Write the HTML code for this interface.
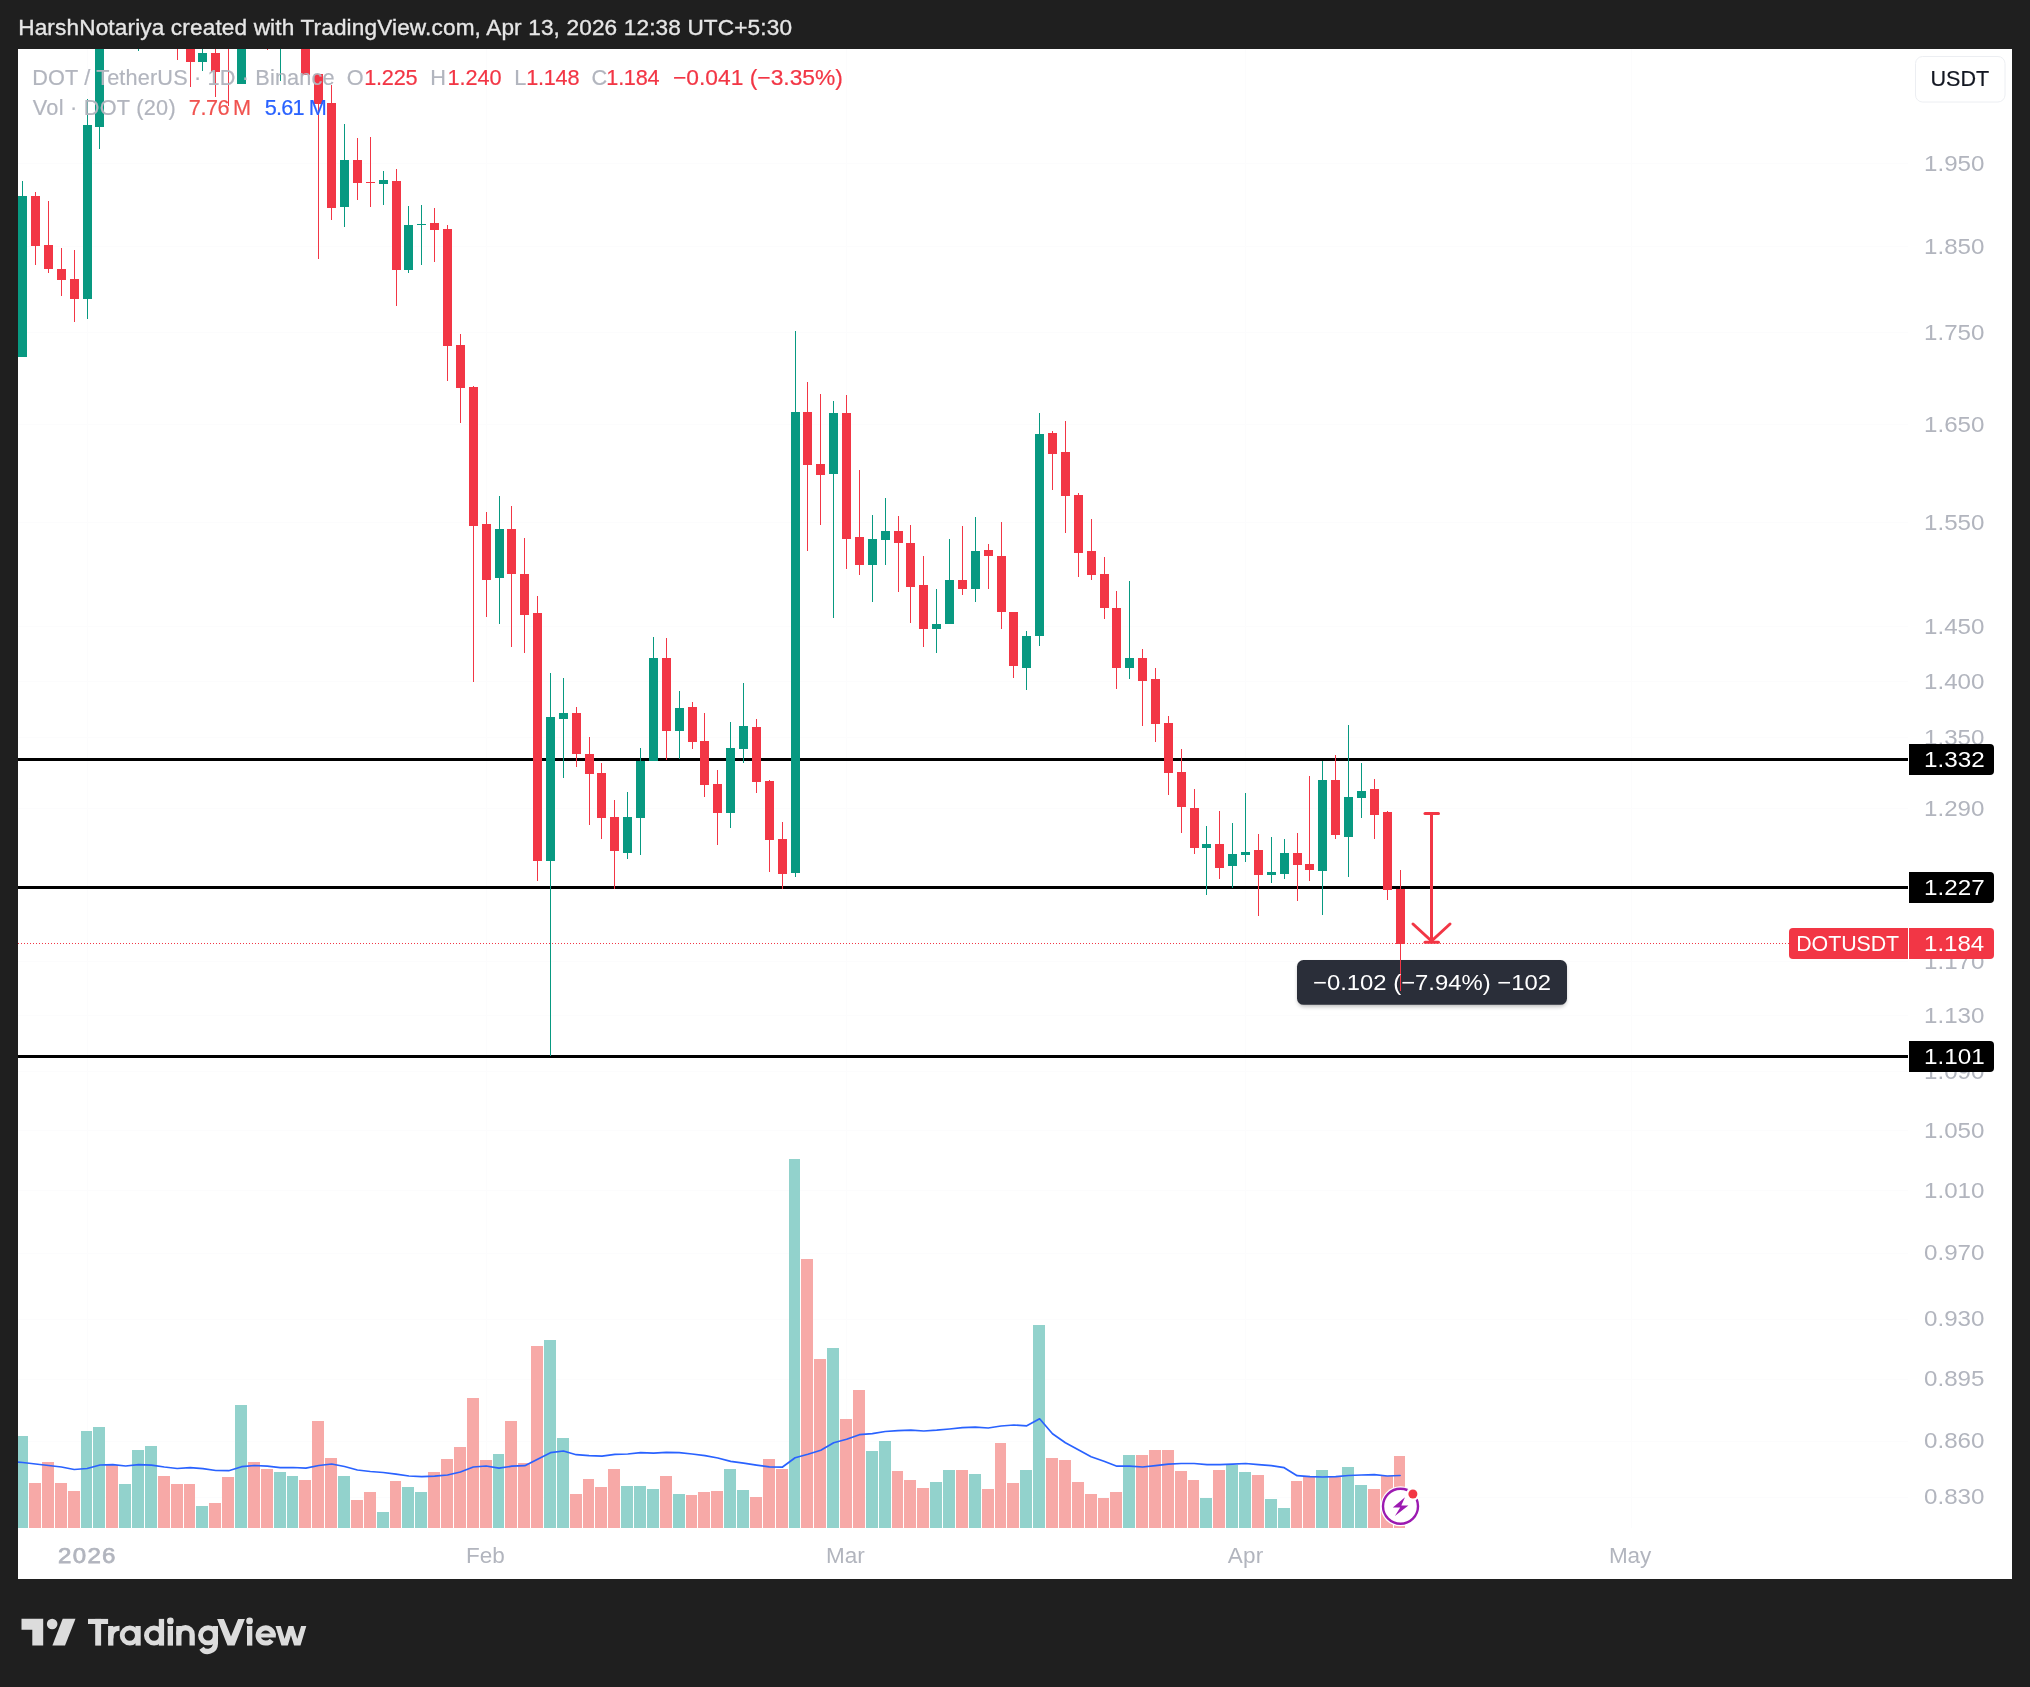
<!DOCTYPE html>
<html><head><meta charset="utf-8"><title>DOTUSDT chart</title>
<style>
html,body{margin:0;padding:0;}
body{width:2030px;height:1687px;background:#1f1f1f;position:relative;overflow:hidden;font-family:"Liberation Sans",sans-serif;}
#chart{position:absolute;left:18px;top:49px;width:1994px;height:1529.5px;background:#fff;overflow:hidden;}
#chart svg{position:absolute;left:0;top:0;}
.t{position:absolute;white-space:pre;transform-origin:0 0;font-family:"Liberation Sans",sans-serif;}
.tx{will-change:transform;position:absolute;left:0;top:0;width:2030px;height:1687px;}
</style></head><body>
<div id="chart">
<svg width="1994" height="1530" viewBox="18 49 1994 1530" shape-rendering="crispEdges">
<rect x="18" y="163" width="1890" height="1" fill="#fcfcfd"/>
<rect x="18" y="246" width="1890" height="1" fill="#fcfcfd"/>
<rect x="18" y="332" width="1890" height="1" fill="#fcfcfd"/>
<rect x="18" y="424" width="1890" height="1" fill="#fcfcfd"/>
<rect x="18" y="522" width="1890" height="1" fill="#fcfcfd"/>
<rect x="18" y="626" width="1890" height="1" fill="#fcfcfd"/>
<rect x="18" y="681" width="1890" height="1" fill="#fcfcfd"/>
<rect x="18" y="737" width="1890" height="1" fill="#fcfcfd"/>
<rect x="18" y="808" width="1890" height="1" fill="#fcfcfd"/>
<rect x="18" y="961" width="1890" height="1" fill="#fcfcfd"/>
<rect x="18" y="1015" width="1890" height="1" fill="#fcfcfd"/>
<rect x="18" y="1071" width="1890" height="1" fill="#fcfcfd"/>
<rect x="18" y="1130" width="1890" height="1" fill="#fcfcfd"/>
<rect x="18" y="1190" width="1890" height="1" fill="#fcfcfd"/>
<rect x="18" y="1253" width="1890" height="1" fill="#fcfcfd"/>
<rect x="18" y="1319" width="1890" height="1" fill="#fcfcfd"/>
<rect x="18" y="1379" width="1890" height="1" fill="#fcfcfd"/>
<rect x="18" y="1441" width="1890" height="1" fill="#fcfcfd"/>
<rect x="18" y="1497" width="1890" height="1" fill="#fcfcfd"/>
<rect x="87" y="49" width="1" height="1479" fill="#fcfcfd"/>
<rect x="486" y="49" width="1" height="1479" fill="#fcfcfd"/>
<rect x="846" y="49" width="1" height="1479" fill="#fcfcfd"/>
<rect x="1245" y="49" width="1" height="1479" fill="#fcfcfd"/>
<rect x="1631" y="49" width="1" height="1479" fill="#fcfcfd"/>
<rect x="16" y="1436" width="12" height="92" fill="#92d2cc"/>
<rect x="29" y="1483" width="12" height="45" fill="#f7a9a7"/>
<rect x="42" y="1462" width="12" height="66" fill="#f7a9a7"/>
<rect x="55" y="1483" width="12" height="45" fill="#f7a9a7"/>
<rect x="68" y="1491" width="12" height="37" fill="#f7a9a7"/>
<rect x="81" y="1431" width="11" height="97" fill="#92d2cc"/>
<rect x="93" y="1427" width="12" height="101" fill="#92d2cc"/>
<rect x="106" y="1465" width="12" height="63" fill="#f7a9a7"/>
<rect x="119" y="1484" width="12" height="44" fill="#92d2cc"/>
<rect x="132" y="1450" width="12" height="78" fill="#92d2cc"/>
<rect x="145" y="1446" width="12" height="82" fill="#92d2cc"/>
<rect x="158" y="1476" width="12" height="52" fill="#f7a9a7"/>
<rect x="171" y="1484" width="12" height="44" fill="#f7a9a7"/>
<rect x="184" y="1484" width="11" height="44" fill="#f7a9a7"/>
<rect x="196" y="1506" width="12" height="22" fill="#92d2cc"/>
<rect x="209" y="1503" width="12" height="25" fill="#f7a9a7"/>
<rect x="222" y="1477" width="12" height="51" fill="#f7a9a7"/>
<rect x="235" y="1405" width="12" height="123" fill="#92d2cc"/>
<rect x="248" y="1462" width="12" height="66" fill="#f7a9a7"/>
<rect x="261" y="1469" width="12" height="59" fill="#f7a9a7"/>
<rect x="274" y="1472" width="12" height="56" fill="#92d2cc"/>
<rect x="287" y="1476" width="11" height="52" fill="#92d2cc"/>
<rect x="299" y="1480" width="12" height="48" fill="#f7a9a7"/>
<rect x="312" y="1421" width="12" height="107" fill="#f7a9a7"/>
<rect x="325" y="1458" width="12" height="70" fill="#f7a9a7"/>
<rect x="338" y="1476" width="12" height="52" fill="#92d2cc"/>
<rect x="351" y="1500" width="12" height="28" fill="#f7a9a7"/>
<rect x="364" y="1492" width="12" height="36" fill="#f7a9a7"/>
<rect x="377" y="1512" width="12" height="16" fill="#92d2cc"/>
<rect x="390" y="1481" width="11" height="47" fill="#f7a9a7"/>
<rect x="402" y="1487" width="12" height="41" fill="#92d2cc"/>
<rect x="415" y="1492" width="12" height="36" fill="#92d2cc"/>
<rect x="428" y="1472" width="12" height="56" fill="#f7a9a7"/>
<rect x="441" y="1459" width="12" height="69" fill="#f7a9a7"/>
<rect x="454" y="1447" width="12" height="81" fill="#f7a9a7"/>
<rect x="467" y="1398" width="12" height="130" fill="#f7a9a7"/>
<rect x="480" y="1460" width="12" height="68" fill="#f7a9a7"/>
<rect x="493" y="1454" width="11" height="74" fill="#92d2cc"/>
<rect x="505" y="1421" width="12" height="107" fill="#f7a9a7"/>
<rect x="518" y="1463" width="12" height="65" fill="#f7a9a7"/>
<rect x="531" y="1346" width="12" height="182" fill="#f7a9a7"/>
<rect x="544" y="1340" width="12" height="188" fill="#92d2cc"/>
<rect x="557" y="1438" width="12" height="90" fill="#92d2cc"/>
<rect x="570" y="1494" width="12" height="34" fill="#f7a9a7"/>
<rect x="583" y="1479" width="11" height="49" fill="#f7a9a7"/>
<rect x="595" y="1487" width="12" height="41" fill="#f7a9a7"/>
<rect x="608" y="1469" width="12" height="59" fill="#f7a9a7"/>
<rect x="621" y="1486" width="12" height="42" fill="#92d2cc"/>
<rect x="634" y="1486" width="12" height="42" fill="#92d2cc"/>
<rect x="647" y="1489" width="12" height="39" fill="#92d2cc"/>
<rect x="660" y="1476" width="12" height="52" fill="#f7a9a7"/>
<rect x="673" y="1494" width="12" height="34" fill="#92d2cc"/>
<rect x="686" y="1495" width="11" height="33" fill="#f7a9a7"/>
<rect x="698" y="1492" width="12" height="36" fill="#f7a9a7"/>
<rect x="711" y="1491" width="12" height="37" fill="#f7a9a7"/>
<rect x="724" y="1469" width="12" height="59" fill="#92d2cc"/>
<rect x="737" y="1490" width="12" height="38" fill="#92d2cc"/>
<rect x="750" y="1497" width="12" height="31" fill="#f7a9a7"/>
<rect x="763" y="1459" width="12" height="69" fill="#f7a9a7"/>
<rect x="776" y="1469" width="12" height="59" fill="#f7a9a7"/>
<rect x="789" y="1159" width="11" height="369" fill="#92d2cc"/>
<rect x="801" y="1259" width="12" height="269" fill="#f7a9a7"/>
<rect x="814" y="1359" width="12" height="169" fill="#f7a9a7"/>
<rect x="827" y="1348" width="12" height="180" fill="#92d2cc"/>
<rect x="840" y="1419" width="12" height="109" fill="#f7a9a7"/>
<rect x="853" y="1390" width="12" height="138" fill="#f7a9a7"/>
<rect x="866" y="1451" width="12" height="77" fill="#92d2cc"/>
<rect x="879" y="1441" width="12" height="87" fill="#92d2cc"/>
<rect x="892" y="1471" width="11" height="57" fill="#f7a9a7"/>
<rect x="904" y="1480" width="12" height="48" fill="#f7a9a7"/>
<rect x="917" y="1488" width="12" height="40" fill="#f7a9a7"/>
<rect x="930" y="1482" width="12" height="46" fill="#92d2cc"/>
<rect x="943" y="1470" width="12" height="58" fill="#92d2cc"/>
<rect x="956" y="1470" width="12" height="58" fill="#f7a9a7"/>
<rect x="969" y="1474" width="12" height="54" fill="#92d2cc"/>
<rect x="982" y="1489" width="12" height="39" fill="#f7a9a7"/>
<rect x="995" y="1443" width="11" height="85" fill="#f7a9a7"/>
<rect x="1007" y="1483" width="12" height="45" fill="#f7a9a7"/>
<rect x="1020" y="1470" width="12" height="58" fill="#92d2cc"/>
<rect x="1033" y="1325" width="12" height="203" fill="#92d2cc"/>
<rect x="1046" y="1458" width="12" height="70" fill="#f7a9a7"/>
<rect x="1059" y="1460" width="12" height="68" fill="#f7a9a7"/>
<rect x="1072" y="1482" width="12" height="46" fill="#f7a9a7"/>
<rect x="1085" y="1494" width="12" height="34" fill="#f7a9a7"/>
<rect x="1098" y="1498" width="11" height="30" fill="#f7a9a7"/>
<rect x="1110" y="1492" width="12" height="36" fill="#f7a9a7"/>
<rect x="1123" y="1455" width="12" height="73" fill="#92d2cc"/>
<rect x="1136" y="1455" width="12" height="73" fill="#f7a9a7"/>
<rect x="1149" y="1450" width="12" height="78" fill="#f7a9a7"/>
<rect x="1162" y="1450" width="12" height="78" fill="#f7a9a7"/>
<rect x="1175" y="1471" width="12" height="57" fill="#f7a9a7"/>
<rect x="1188" y="1480" width="11" height="48" fill="#f7a9a7"/>
<rect x="1200" y="1498" width="12" height="30" fill="#92d2cc"/>
<rect x="1213" y="1470" width="12" height="58" fill="#f7a9a7"/>
<rect x="1226" y="1465" width="12" height="63" fill="#92d2cc"/>
<rect x="1239" y="1472" width="12" height="56" fill="#92d2cc"/>
<rect x="1252" y="1475" width="12" height="53" fill="#f7a9a7"/>
<rect x="1265" y="1499" width="12" height="29" fill="#92d2cc"/>
<rect x="1278" y="1508" width="12" height="20" fill="#92d2cc"/>
<rect x="1291" y="1481" width="11" height="47" fill="#f7a9a7"/>
<rect x="1303" y="1477" width="12" height="51" fill="#f7a9a7"/>
<rect x="1316" y="1470" width="12" height="58" fill="#92d2cc"/>
<rect x="1329" y="1477" width="12" height="51" fill="#f7a9a7"/>
<rect x="1342" y="1467" width="12" height="61" fill="#92d2cc"/>
<rect x="1355" y="1485" width="12" height="43" fill="#92d2cc"/>
<rect x="1368" y="1489" width="12" height="39" fill="#f7a9a7"/>
<rect x="1381" y="1476" width="12" height="52" fill="#f7a9a7"/>
<rect x="1394" y="1456" width="11" height="72" fill="#f7a9a7"/>
<polyline points="18,1462.2 22.7,1462.5 35.6,1464.0 48.5,1465.5 61.4,1467.0 74.2,1469.5 87.1,1468.5 100.0,1465.0 112.8,1464.7 125.7,1466.0 138.6,1464.7 151.5,1465.2 164.3,1467.0 177.2,1468.5 190.1,1467.7 202.9,1468.7 215.8,1470.5 228.7,1470.7 241.6,1466.7 254.4,1465.5 267.3,1466.2 280.2,1467.7 293.1,1467.5 305.9,1468.2 318.8,1465.5 331.7,1464.0 344.5,1466.5 357.4,1470.0 370.3,1471.5 383.2,1472.5 396.0,1474.2 408.9,1476.0 421.8,1476.7 434.6,1476.2 447.5,1475.0 460.4,1472.0 473.3,1467.0 486.1,1466.0 499.0,1468.2 511.9,1466.2 524.8,1465.7 537.6,1459.2 550.5,1452.7 563.4,1451.0 576.2,1454.7 589.1,1455.7 602.0,1456.2 614.9,1454.4 627.7,1454.0 640.6,1452.7 653.5,1453.2 666.3,1452.4 679.2,1452.7 692.1,1454.0 705.0,1455.7 717.8,1458.0 730.7,1461.4 743.6,1463.2 756.5,1465.2 769.3,1466.9 782.2,1467.2 795.1,1457.7 807.9,1454.2 820.8,1450.2 833.7,1442.7 846.6,1439.2 859.4,1434.7 872.3,1433.7 885.2,1431.5 898.0,1430.7 910.9,1430.2 923.8,1431.0 936.7,1430.2 949.5,1429.0 962.4,1427.7 975.3,1427.2 988.2,1428.0 1001.0,1426.0 1013.9,1425.0 1026.8,1425.8 1039.6,1418.8 1052.5,1433.7 1065.4,1442.7 1078.3,1449.7 1091.1,1456.7 1104.0,1461.2 1116.9,1466.2 1129.7,1466.2 1142.6,1467.0 1155.5,1465.7 1168.4,1464.2 1181.2,1463.5 1194.1,1463.5 1207.0,1464.7 1219.9,1464.7 1232.7,1464.2 1245.6,1463.5 1258.5,1464.7 1271.3,1465.7 1284.2,1467.7 1297.1,1475.7 1310.0,1476.7 1322.8,1477.0 1335.7,1476.7 1348.6,1475.5 1361.4,1475.0 1374.3,1474.7 1387.2,1476.0 1400.1,1475.5" fill="none" stroke="#2962ff" stroke-width="1.7" stroke-linejoin="round" stroke-linecap="round" shape-rendering="geometricPrecision"/>
<rect x="18" y="758" width="1890" height="3" fill="#000"/>
<rect x="18" y="886" width="1890" height="3" fill="#000"/>
<rect x="18" y="1055" width="1890" height="3" fill="#000"/>
<g shape-rendering="geometricPrecision" stroke="#f23645" stroke-width="3" stroke-linecap="round" fill="none"><path d="M1431.5 813.5V942"/><path d="M1425 813.5H1438.5"/><path d="M1425 942.3H1438.5"/><path d="M1413 924L1431.5 941L1450 924" stroke-linejoin="miter"/></g>
<defs><filter id="sh" x="-10%" y="-30%" width="120%" height="170%"><feGaussianBlur stdDeviation="2.2"/></filter></defs><g shape-rendering="geometricPrecision"><rect x="1298" y="963" width="268" height="43.5" rx="6" fill="#000" opacity="0.28" filter="url(#sh)"/><rect x="1297" y="960" width="270" height="44.8" rx="6.5" fill="#2a2e39"/></g>
<rect x="22" y="181" width="1" height="176" fill="#089981"/>
<rect x="18" y="196" width="9" height="161" fill="#089981"/>
<rect x="35" y="192" width="1" height="73" fill="#f23645"/>
<rect x="31" y="196" width="9" height="50" fill="#f23645"/>
<rect x="48" y="201" width="1" height="72" fill="#f23645"/>
<rect x="44" y="245" width="9" height="24" fill="#f23645"/>
<rect x="61" y="248" width="1" height="48" fill="#f23645"/>
<rect x="57" y="269" width="9" height="11" fill="#f23645"/>
<rect x="74" y="250" width="1" height="72" fill="#f23645"/>
<rect x="70" y="279" width="9" height="20" fill="#f23645"/>
<rect x="87" y="99" width="1" height="220" fill="#089981"/>
<rect x="83" y="125" width="9" height="174" fill="#089981"/>
<rect x="99" y="20" width="1" height="129" fill="#089981"/>
<rect x="95" y="30" width="9" height="97" fill="#089981"/>
<rect x="138" y="20" width="1" height="31" fill="#089981"/>
<rect x="134" y="30" width="9" height="10" fill="#089981"/>
<rect x="177" y="20" width="1" height="40" fill="#f23645"/>
<rect x="173" y="30" width="9" height="10" fill="#f23645"/>
<rect x="190" y="20" width="1" height="67" fill="#f23645"/>
<rect x="186" y="30" width="9" height="32" fill="#f23645"/>
<rect x="202" y="20" width="1" height="51" fill="#089981"/>
<rect x="198" y="53" width="9" height="9" fill="#089981"/>
<rect x="215" y="20" width="1" height="77" fill="#f23645"/>
<rect x="211" y="53" width="9" height="19" fill="#f23645"/>
<rect x="228" y="20" width="1" height="86" fill="#f23645"/>
<rect x="224" y="30" width="9" height="10" fill="#f23645"/>
<rect x="241" y="20" width="1" height="64" fill="#089981"/>
<rect x="237" y="30" width="9" height="54" fill="#089981"/>
<rect x="267" y="20" width="1" height="30" fill="#f23645"/>
<rect x="263" y="30" width="9" height="10" fill="#f23645"/>
<rect x="280" y="20" width="1" height="61" fill="#089981"/>
<rect x="276" y="30" width="9" height="10" fill="#089981"/>
<rect x="305" y="20" width="1" height="55" fill="#f23645"/>
<rect x="301" y="30" width="9" height="45" fill="#f23645"/>
<rect x="318" y="74" width="1" height="185" fill="#f23645"/>
<rect x="314" y="74" width="9" height="30" fill="#f23645"/>
<rect x="331" y="85" width="1" height="135" fill="#f23645"/>
<rect x="327" y="103" width="9" height="105" fill="#f23645"/>
<rect x="344" y="124" width="1" height="103" fill="#089981"/>
<rect x="340" y="160" width="9" height="47" fill="#089981"/>
<rect x="357" y="138" width="1" height="62" fill="#f23645"/>
<rect x="353" y="160" width="9" height="23" fill="#f23645"/>
<rect x="370" y="137" width="1" height="70" fill="#f23645"/>
<rect x="366" y="182" width="9" height="1" fill="#f23645"/>
<rect x="383" y="171" width="1" height="34" fill="#089981"/>
<rect x="379" y="180" width="9" height="4" fill="#089981"/>
<rect x="396" y="169" width="1" height="137" fill="#f23645"/>
<rect x="392" y="181" width="9" height="89" fill="#f23645"/>
<rect x="408" y="206" width="1" height="67" fill="#089981"/>
<rect x="404" y="225" width="9" height="45" fill="#089981"/>
<rect x="421" y="205" width="1" height="60" fill="#089981"/>
<rect x="417" y="224" width="9" height="1" fill="#089981"/>
<rect x="434" y="208" width="1" height="54" fill="#f23645"/>
<rect x="430" y="223" width="9" height="7" fill="#f23645"/>
<rect x="447" y="225" width="1" height="156" fill="#f23645"/>
<rect x="443" y="229" width="9" height="117" fill="#f23645"/>
<rect x="460" y="334" width="1" height="89" fill="#f23645"/>
<rect x="456" y="345" width="9" height="43" fill="#f23645"/>
<rect x="473" y="386" width="1" height="296" fill="#f23645"/>
<rect x="469" y="387" width="9" height="139" fill="#f23645"/>
<rect x="486" y="512" width="1" height="105" fill="#f23645"/>
<rect x="482" y="524" width="9" height="56" fill="#f23645"/>
<rect x="499" y="496" width="1" height="128" fill="#089981"/>
<rect x="495" y="529" width="9" height="49" fill="#089981"/>
<rect x="511" y="506" width="1" height="141" fill="#f23645"/>
<rect x="507" y="529" width="9" height="45" fill="#f23645"/>
<rect x="524" y="538" width="1" height="115" fill="#f23645"/>
<rect x="520" y="574" width="9" height="41" fill="#f23645"/>
<rect x="537" y="596" width="1" height="285" fill="#f23645"/>
<rect x="533" y="613" width="9" height="248" fill="#f23645"/>
<rect x="550" y="673" width="1" height="383" fill="#089981"/>
<rect x="546" y="717" width="9" height="144" fill="#089981"/>
<rect x="563" y="678" width="1" height="100" fill="#089981"/>
<rect x="559" y="713" width="9" height="6" fill="#089981"/>
<rect x="576" y="707" width="1" height="60" fill="#f23645"/>
<rect x="572" y="713" width="9" height="41" fill="#f23645"/>
<rect x="589" y="737" width="1" height="88" fill="#f23645"/>
<rect x="585" y="754" width="9" height="20" fill="#f23645"/>
<rect x="601" y="763" width="1" height="76" fill="#f23645"/>
<rect x="597" y="773" width="9" height="45" fill="#f23645"/>
<rect x="614" y="800" width="1" height="89" fill="#f23645"/>
<rect x="610" y="817" width="9" height="34" fill="#f23645"/>
<rect x="627" y="792" width="1" height="67" fill="#089981"/>
<rect x="623" y="817" width="9" height="36" fill="#089981"/>
<rect x="640" y="748" width="1" height="107" fill="#089981"/>
<rect x="636" y="761" width="9" height="57" fill="#089981"/>
<rect x="653" y="637" width="1" height="124" fill="#089981"/>
<rect x="649" y="658" width="9" height="103" fill="#089981"/>
<rect x="666" y="638" width="1" height="122" fill="#f23645"/>
<rect x="662" y="658" width="9" height="73" fill="#f23645"/>
<rect x="679" y="691" width="1" height="68" fill="#089981"/>
<rect x="675" y="708" width="9" height="23" fill="#089981"/>
<rect x="692" y="702" width="1" height="47" fill="#f23645"/>
<rect x="688" y="707" width="9" height="35" fill="#f23645"/>
<rect x="704" y="713" width="1" height="84" fill="#f23645"/>
<rect x="700" y="741" width="9" height="44" fill="#f23645"/>
<rect x="717" y="770" width="1" height="75" fill="#f23645"/>
<rect x="713" y="784" width="9" height="29" fill="#f23645"/>
<rect x="730" y="722" width="1" height="106" fill="#089981"/>
<rect x="726" y="748" width="9" height="65" fill="#089981"/>
<rect x="743" y="683" width="1" height="80" fill="#089981"/>
<rect x="739" y="726" width="9" height="23" fill="#089981"/>
<rect x="756" y="719" width="1" height="74" fill="#f23645"/>
<rect x="752" y="727" width="9" height="55" fill="#f23645"/>
<rect x="769" y="780" width="1" height="92" fill="#f23645"/>
<rect x="765" y="781" width="9" height="59" fill="#f23645"/>
<rect x="782" y="822" width="1" height="67" fill="#f23645"/>
<rect x="778" y="839" width="9" height="35" fill="#f23645"/>
<rect x="795" y="331" width="1" height="546" fill="#089981"/>
<rect x="791" y="412" width="9" height="461" fill="#089981"/>
<rect x="807" y="382" width="1" height="169" fill="#f23645"/>
<rect x="803" y="412" width="9" height="53" fill="#f23645"/>
<rect x="820" y="394" width="1" height="131" fill="#f23645"/>
<rect x="816" y="464" width="9" height="11" fill="#f23645"/>
<rect x="833" y="401" width="1" height="217" fill="#089981"/>
<rect x="829" y="413" width="9" height="61" fill="#089981"/>
<rect x="846" y="395" width="1" height="174" fill="#f23645"/>
<rect x="842" y="413" width="9" height="126" fill="#f23645"/>
<rect x="859" y="470" width="1" height="105" fill="#f23645"/>
<rect x="855" y="537" width="9" height="28" fill="#f23645"/>
<rect x="872" y="515" width="1" height="87" fill="#089981"/>
<rect x="868" y="539" width="9" height="26" fill="#089981"/>
<rect x="885" y="498" width="1" height="67" fill="#089981"/>
<rect x="881" y="531" width="9" height="9" fill="#089981"/>
<rect x="898" y="516" width="1" height="76" fill="#f23645"/>
<rect x="894" y="531" width="9" height="12" fill="#f23645"/>
<rect x="910" y="525" width="1" height="98" fill="#f23645"/>
<rect x="906" y="543" width="9" height="44" fill="#f23645"/>
<rect x="923" y="556" width="1" height="91" fill="#f23645"/>
<rect x="919" y="585" width="9" height="44" fill="#f23645"/>
<rect x="936" y="589" width="1" height="64" fill="#089981"/>
<rect x="932" y="624" width="9" height="5" fill="#089981"/>
<rect x="949" y="539" width="1" height="85" fill="#089981"/>
<rect x="945" y="580" width="9" height="44" fill="#089981"/>
<rect x="962" y="526" width="1" height="69" fill="#f23645"/>
<rect x="958" y="580" width="9" height="9" fill="#f23645"/>
<rect x="975" y="517" width="1" height="85" fill="#089981"/>
<rect x="971" y="551" width="9" height="38" fill="#089981"/>
<rect x="988" y="544" width="1" height="45" fill="#f23645"/>
<rect x="984" y="550" width="9" height="6" fill="#f23645"/>
<rect x="1001" y="522" width="1" height="107" fill="#f23645"/>
<rect x="997" y="556" width="9" height="56" fill="#f23645"/>
<rect x="1013" y="612" width="1" height="66" fill="#f23645"/>
<rect x="1009" y="612" width="9" height="54" fill="#f23645"/>
<rect x="1026" y="631" width="1" height="59" fill="#089981"/>
<rect x="1022" y="636" width="9" height="32" fill="#089981"/>
<rect x="1039" y="413" width="1" height="233" fill="#089981"/>
<rect x="1035" y="434" width="9" height="202" fill="#089981"/>
<rect x="1052" y="431" width="1" height="59" fill="#f23645"/>
<rect x="1048" y="433" width="9" height="21" fill="#f23645"/>
<rect x="1065" y="421" width="1" height="112" fill="#f23645"/>
<rect x="1061" y="452" width="9" height="44" fill="#f23645"/>
<rect x="1078" y="493" width="1" height="84" fill="#f23645"/>
<rect x="1074" y="495" width="9" height="58" fill="#f23645"/>
<rect x="1091" y="519" width="1" height="61" fill="#f23645"/>
<rect x="1087" y="551" width="9" height="24" fill="#f23645"/>
<rect x="1104" y="557" width="1" height="62" fill="#f23645"/>
<rect x="1100" y="574" width="9" height="34" fill="#f23645"/>
<rect x="1116" y="591" width="1" height="98" fill="#f23645"/>
<rect x="1112" y="608" width="9" height="60" fill="#f23645"/>
<rect x="1129" y="581" width="1" height="98" fill="#089981"/>
<rect x="1125" y="658" width="9" height="10" fill="#089981"/>
<rect x="1142" y="649" width="1" height="77" fill="#f23645"/>
<rect x="1138" y="658" width="9" height="23" fill="#f23645"/>
<rect x="1155" y="668" width="1" height="74" fill="#f23645"/>
<rect x="1151" y="679" width="9" height="45" fill="#f23645"/>
<rect x="1168" y="716" width="1" height="79" fill="#f23645"/>
<rect x="1164" y="723" width="9" height="50" fill="#f23645"/>
<rect x="1181" y="749" width="1" height="84" fill="#f23645"/>
<rect x="1177" y="772" width="9" height="35" fill="#f23645"/>
<rect x="1194" y="789" width="1" height="65" fill="#f23645"/>
<rect x="1190" y="808" width="9" height="40" fill="#f23645"/>
<rect x="1206" y="826" width="1" height="69" fill="#089981"/>
<rect x="1202" y="844" width="9" height="4" fill="#089981"/>
<rect x="1219" y="811" width="1" height="68" fill="#f23645"/>
<rect x="1215" y="844" width="9" height="24" fill="#f23645"/>
<rect x="1232" y="823" width="1" height="65" fill="#089981"/>
<rect x="1228" y="854" width="9" height="12" fill="#089981"/>
<rect x="1245" y="793" width="1" height="69" fill="#089981"/>
<rect x="1241" y="852" width="9" height="3" fill="#089981"/>
<rect x="1258" y="834" width="1" height="82" fill="#f23645"/>
<rect x="1254" y="850" width="9" height="25" fill="#f23645"/>
<rect x="1271" y="837" width="1" height="46" fill="#089981"/>
<rect x="1267" y="872" width="9" height="3" fill="#089981"/>
<rect x="1284" y="839" width="1" height="40" fill="#089981"/>
<rect x="1280" y="853" width="9" height="21" fill="#089981"/>
<rect x="1297" y="833" width="1" height="68" fill="#f23645"/>
<rect x="1293" y="853" width="9" height="12" fill="#f23645"/>
<rect x="1309" y="776" width="1" height="105" fill="#f23645"/>
<rect x="1305" y="864" width="9" height="6" fill="#f23645"/>
<rect x="1322" y="761" width="1" height="154" fill="#089981"/>
<rect x="1318" y="780" width="9" height="91" fill="#089981"/>
<rect x="1335" y="755" width="1" height="84" fill="#f23645"/>
<rect x="1331" y="780" width="9" height="55" fill="#f23645"/>
<rect x="1348" y="725" width="1" height="152" fill="#089981"/>
<rect x="1344" y="797" width="9" height="40" fill="#089981"/>
<rect x="1361" y="763" width="1" height="55" fill="#089981"/>
<rect x="1357" y="791" width="9" height="7" fill="#089981"/>
<rect x="1374" y="779" width="1" height="60" fill="#f23645"/>
<rect x="1370" y="789" width="9" height="26" fill="#f23645"/>
<rect x="1387" y="811" width="1" height="89" fill="#f23645"/>
<rect x="1383" y="812" width="9" height="78" fill="#f23645"/>
<rect x="1400" y="870" width="1" height="121" fill="#f23645"/>
<rect x="1396" y="889" width="9" height="55" fill="#f23645"/>
<line x1="18" y1="943.5" x2="1789" y2="943.5" stroke="#f23645" stroke-width="1" stroke-dasharray="1 2"/>
<g shape-rendering="geometricPrecision"><circle cx="1400.5" cy="1506.3" r="20" fill="#fff"/><circle cx="1400.5" cy="1506.3" r="17.5" fill="none" stroke="#9c1ab1" stroke-width="2.4"/><circle cx="1412.9" cy="1494" r="6.8" fill="#fff"/><circle cx="1412.9" cy="1494" r="4.5" fill="#f23645"/><path d="M1405 1497.2L1392.8 1507.5H1400.2L1394.9 1515.9L1408.4 1505.4H1401.3Z" fill="#9c1ab1"/></g>
</svg>
</div>
<div class="tx">
<div class="t" style="left:1924.47px;top:152.52px;font-size:21.6px;line-height:21.6px;color:#b2b5be;transform:scaleX(1.1185);">1.950</div>
<div class="t" style="left:1924.47px;top:235.62px;font-size:21.6px;line-height:21.6px;color:#b2b5be;transform:scaleX(1.1185);">1.850</div>
<div class="t" style="left:1924.47px;top:321.72px;font-size:21.6px;line-height:21.6px;color:#b2b5be;transform:scaleX(1.1185);">1.750</div>
<div class="t" style="left:1924.47px;top:413.62px;font-size:21.6px;line-height:21.6px;color:#b2b5be;transform:scaleX(1.1185);">1.650</div>
<div class="t" style="left:1924.47px;top:511.52px;font-size:21.6px;line-height:21.6px;color:#b2b5be;transform:scaleX(1.1185);">1.550</div>
<div class="t" style="left:1924.47px;top:615.92px;font-size:21.6px;line-height:21.6px;color:#b2b5be;transform:scaleX(1.1185);">1.450</div>
<div class="t" style="left:1924.47px;top:670.72px;font-size:21.6px;line-height:21.6px;color:#b2b5be;transform:scaleX(1.1185);">1.400</div>
<div class="t" style="left:1924.47px;top:727.12px;font-size:21.6px;line-height:21.6px;color:#b2b5be;transform:scaleX(1.1185);">1.350</div>
<div class="t" style="left:1924.47px;top:797.72px;font-size:21.6px;line-height:21.6px;color:#b2b5be;transform:scaleX(1.1185);">1.290</div>
<div class="t" style="left:1924.47px;top:950.52px;font-size:21.6px;line-height:21.6px;color:#b2b5be;transform:scaleX(1.1185);">1.170</div>
<div class="t" style="left:1924.47px;top:1004.72px;font-size:21.6px;line-height:21.6px;color:#b2b5be;transform:scaleX(1.1185);">1.130</div>
<div class="t" style="left:1924.47px;top:1060.62px;font-size:21.6px;line-height:21.6px;color:#b2b5be;transform:scaleX(1.1185);">1.090</div>
<div class="t" style="left:1924.47px;top:1120.12px;font-size:21.6px;line-height:21.6px;color:#b2b5be;transform:scaleX(1.1185);">1.050</div>
<div class="t" style="left:1924.47px;top:1179.62px;font-size:21.6px;line-height:21.6px;color:#b2b5be;transform:scaleX(1.1185);">1.010</div>
<div class="t" style="left:1924.43px;top:1242.32px;font-size:21.6px;line-height:21.6px;color:#b2b5be;transform:scaleX(1.1191);">0.970</div>
<div class="t" style="left:1924.43px;top:1308.22px;font-size:21.6px;line-height:21.6px;color:#b2b5be;transform:scaleX(1.1191);">0.930</div>
<div class="t" style="left:1924.43px;top:1368.32px;font-size:21.6px;line-height:21.6px;color:#b2b5be;transform:scaleX(1.1191);">0.895</div>
<div class="t" style="left:1924.43px;top:1430.22px;font-size:21.6px;line-height:21.6px;color:#b2b5be;transform:scaleX(1.1191);">0.860</div>
<div class="t" style="left:1924.43px;top:1486.42px;font-size:21.6px;line-height:21.6px;color:#b2b5be;transform:scaleX(1.1191);">0.830</div>
</div>
<svg style="position:absolute;left:18px;top:49px" width="1994" height="1530" viewBox="18 49 1994 1530" shape-rendering="crispEdges">
<path shape-rendering="geometricPrecision" fill="#000" d="M1909 744H1990a4 4 0 0 1 4 4V771a4 4 0 0 1 -4 4H1909Z"/>
<path shape-rendering="geometricPrecision" fill="#000" d="M1909 872H1990a4 4 0 0 1 4 4V899a4 4 0 0 1 -4 4H1909Z"/>
<path shape-rendering="geometricPrecision" fill="#000" d="M1909 1041H1990a4 4 0 0 1 4 4V1068a4 4 0 0 1 -4 4H1909Z"/>
<path shape-rendering="geometricPrecision" fill="#f23645" d="M1909 928H1990a4 4 0 0 1 4 4V955a4 4 0 0 1 -4 4H1909Z"/>
<path shape-rendering="geometricPrecision" fill="#f23645" d="M1793 928H1908a0 0 0 0 1 0 0V959a0 0 0 0 1 -0 0H1793a4 4 0 0 1 -4 -4V932a4 4 0 0 1 4 -4Z"/>
<rect shape-rendering="geometricPrecision" x="1915.5" y="56.5" width="89.5" height="45.5" rx="7" fill="#fff" stroke="#eceef2" stroke-width="1"/>
</svg>
<div class="tx">
<div class="t" style="left:18.19px;top:17.47px;font-size:22.6px;line-height:22.6px;color:#e6e6e6;letter-spacing:0.143px;-webkit-text-stroke:0.35px #e6e6e6;">HarshNotariya created with TradingView.com, Apr 13, 2026 12:38 UTC+5:30</div>
<div class="t" style="left:32.16px;top:66.83px;font-size:21.7px;line-height:21.7px;color:#b2b5be;letter-spacing:0.155px;-webkit-text-stroke:0.2px #b2b5be;">DOT / TetherUS · 1D · Binance</div>
<div class="t" style="left:346.81px;top:66.83px;font-size:21.7px;line-height:21.7px;color:#b2b5be;-webkit-text-stroke:0.2px #b2b5be;">O</div>
<div class="t" style="left:364.16px;top:66.83px;font-size:21.7px;line-height:21.7px;color:#f23645;letter-spacing:-0.186px;-webkit-text-stroke:0.2px #f23645;">1.225</div>
<div class="t" style="left:430.16px;top:66.83px;font-size:21.7px;line-height:21.7px;color:#b2b5be;-webkit-text-stroke:0.2px #b2b5be;">H</div>
<div class="t" style="left:447.56px;top:66.83px;font-size:21.7px;line-height:21.7px;color:#f23645;letter-spacing:-0.036px;-webkit-text-stroke:0.2px #f23645;">1.240</div>
<div class="t" style="left:514.26px;top:66.83px;font-size:21.7px;line-height:21.7px;color:#b2b5be;-webkit-text-stroke:0.2px #b2b5be;">L</div>
<div class="t" style="left:526.16px;top:66.83px;font-size:21.7px;line-height:21.7px;color:#f23645;letter-spacing:-0.236px;-webkit-text-stroke:0.2px #f23645;">1.148</div>
<div class="t" style="left:591.62px;top:66.83px;font-size:21.7px;line-height:21.7px;color:#b2b5be;-webkit-text-stroke:0.2px #b2b5be;">C</div>
<div class="t" style="left:606.36px;top:66.83px;font-size:21.7px;line-height:21.7px;color:#f23645;letter-spacing:-0.291px;-webkit-text-stroke:0.2px #f23645;">1.184</div>
<div class="t" style="left:672.86px;top:66.83px;font-size:21.7px;line-height:21.7px;color:#f23645;transform:scaleX(1.0516);-webkit-text-stroke:0.2px #f23645;">−0.041 (−3.35%)</div>
<div class="t" style="left:32.78px;top:97.23px;font-size:21.7px;line-height:21.7px;color:#b2b5be;letter-spacing:0.268px;-webkit-text-stroke:0.2px #b2b5be;">Vol · DOT (20)</div>
<div class="t" style="left:188.81px;top:97.23px;font-size:21.7px;line-height:21.7px;color:#f0524f;letter-spacing:-0.448px;-webkit-text-stroke:0.2px #f0524f;">7.76</div>
<div class="t" style="left:232.96px;top:97.23px;font-size:21.7px;line-height:21.7px;color:#f0524f;-webkit-text-stroke:0.2px #f0524f;">M</div>
<div class="t" style="left:264.83px;top:97.23px;font-size:21.7px;line-height:21.7px;color:#2962ff;letter-spacing:-0.787px;-webkit-text-stroke:0.2px #2962ff;">5.61</div>
<div class="t" style="left:308.86px;top:97.23px;font-size:21.7px;line-height:21.7px;color:#2962ff;-webkit-text-stroke:0.2px #2962ff;">M</div>
<div class="t" style="left:1924.46px;top:748.82px;font-size:21.6px;line-height:21.6px;color:#fff;transform:scaleX(1.1232);">1.332</div>
<div class="t" style="left:1924.46px;top:876.92px;font-size:21.6px;line-height:21.6px;color:#fff;transform:scaleX(1.1232);">1.227</div>
<div class="t" style="left:1924.46px;top:1045.62px;font-size:21.6px;line-height:21.6px;color:#fff;transform:scaleX(1.1232);">1.101</div>
<div class="t" style="left:1924.48px;top:932.82px;font-size:21.6px;line-height:21.6px;color:#fff;transform:scaleX(1.1138);">1.184</div>
<div class="t" style="left:1796.19px;top:933.88px;font-size:21.4px;line-height:21.4px;color:#fff;letter-spacing:-0.070px;">DOTUSDT</div>
<div class="t" style="left:1930.47px;top:67.72px;font-size:21.6px;line-height:21.6px;color:#131722;letter-spacing:-0.031px;-webkit-text-stroke:0.2px #131722;">USDT</div>
<div class="t" style="left:1312.81px;top:971.58px;font-size:22px;line-height:22px;color:#fff;transform:scaleX(1.0839);">−0.102 (−7.94%) −102</div>
<div class="t" style="left:58.30px;top:1545.15px;font-size:21.8px;line-height:21.8px;color:#b2b5be;letter-spacing:1.200px;transform:scaleX(1.1026);-webkit-text-stroke:0.75px #b2b5be;">2026</div>
<div class="t" style="left:466.00px;top:1545.15px;font-size:22.5px;line-height:22.5px;color:#b2b5be;">Feb</div>
<div class="t" style="left:825.90px;top:1545.15px;font-size:22.5px;line-height:22.5px;color:#b2b5be;letter-spacing:0.112px;">Mar</div>
<div class="t" style="left:1227.80px;top:1545.15px;font-size:22.5px;line-height:22.5px;color:#b2b5be;letter-spacing:0.175px;">Apr</div>
<div class="t" style="left:1609.00px;top:1545.15px;font-size:22.5px;line-height:22.5px;color:#b2b5be;letter-spacing:-0.162px;">May</div>
</div>
<svg style="position:absolute;left:0;top:1600px" width="330" height="70" viewBox="0 1600 330 70" shape-rendering="geometricPrecision"><title>TradingView</title><defs><clipPath id="cv"><rect x="210" y="1618.9" width="40" height="26.70"/></clipPath><clipPath id="cw"><rect x="270" y="1626.0" width="40" height="19.60"/></clipPath></defs><g fill="#dcdcdc" stroke="none"><path d="M21.5 1618.8H43.2V1645.4H32.3V1629.7H21.5Z"/><circle cx="52.15" cy="1624" r="5.3"/><path d="M62.7 1618.8H75.5L65 1645.4H52.4Z"/><rect x="88" y="1618.9" width="20.1" height="5.1"/><rect x="95.2" y="1618.9" width="5.9" height="26.70"/><rect x="108.1" y="1626.0" width="5.3" height="19.60"/><rect x="135.5" y="1626.0" width="5.2" height="19.60"/><rect x="158.8" y="1618.9" width="5.3" height="26.70"/><rect x="167.7" y="1626.0" width="5.3" height="19.60"/><circle cx="170.4" cy="1620.9" r="3.4"/><rect x="176.2" y="1626.0" width="5.3" height="19.60"/><rect x="247" y="1626.0" width="5.3" height="19.60"/><circle cx="249.6" cy="1620.9" r="3.4"/><path d="M217.1 1618.9H223.9L231 1636.6L238.1 1618.9H244.9L234.6 1645.6H227.5Z"/><rect x="258.5" y="1633.5" width="17.3" height="4.0"/></g><g fill="none" stroke="#dcdcdc" stroke-width="5.2"><path d="M110.75 1638.5C110.75 1631.5 113.8 1628.3 119.5 1628.3" stroke-width="5.1"/><circle cx="129.8" cy="1635.5" r="7.6" stroke-width="4.9"/><circle cx="154.05" cy="1635.5" r="7.6" stroke-width="4.9"/><path d="M192.15 1645.6V1634.4A6.65 6.65 0 0 0 178.85 1634.4" stroke-width="5.3"/><circle cx="208.1" cy="1635.3" r="7.6" stroke-width="4.9"/><path d="M215.35 1626.0V1643.8A7.6 7.6 0 0 1 201.52 1648.16" stroke-width="5.3"/><path d="M273.3 1635.5A7.6 7.6 0 1 0 271.69 1640.18" stroke-width="5.0"/><path clip-path="url(#cw)" d="M276.9 1622L284.6 1647.5L290.9 1626.5L297.3 1647.5L304.9 1622" stroke-width="5.0" stroke-linejoin="miter" stroke-miterlimit="10"/></g></svg>
</body></html>
